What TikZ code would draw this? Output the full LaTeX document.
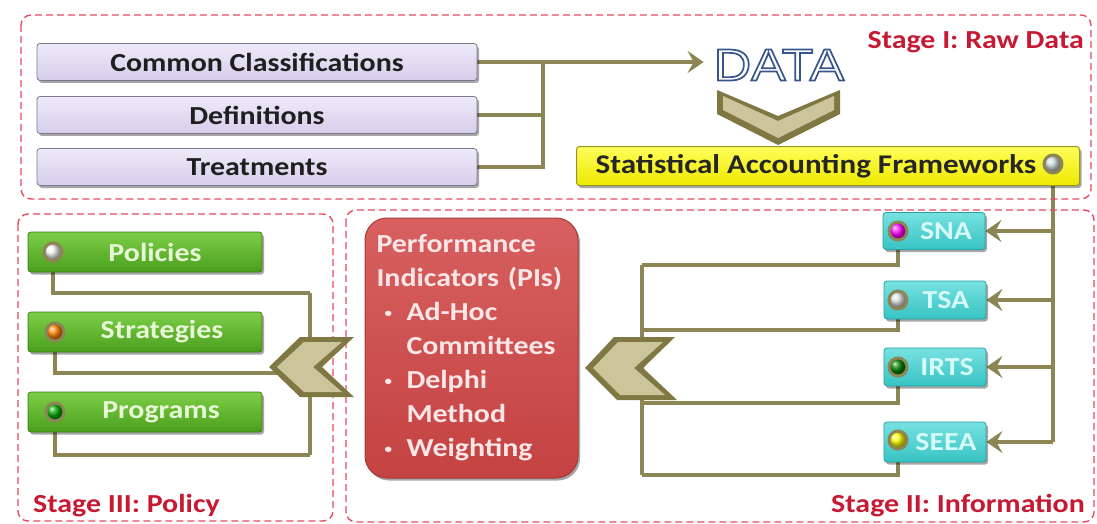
\documentclass[tikz,border=0pt]{standalone}
\usepackage{fontspec}
\setmainfont{Carlito}[FakeStretch=1.15]
\newfontfamily\datafont{Liberation Sans}[FakeStretch=1.15]
\usetikzlibrary{arrows.meta,shadows}
\pgfdeclarelayer{bg}
\pgfsetlayers{bg,main}
\definecolor{stagered}{RGB}{200,25,50}
\definecolor{dashred}{RGB}{228,75,100}
\definecolor{olivec}{RGB}{140,134,84}
\definecolor{chevfill}{RGB}{204,196,154}
\definecolor{chevdark}{RGB}{128,120,66}
\definecolor{lav}{RGB}{214,206,234}
\definecolor{lavtop}{RGB}{238,234,250}
\definecolor{lavborder}{RGB}{125,120,145}
\definecolor{yeltop}{RGB}{255,255,90}
\definecolor{yelbot}{RGB}{238,232,0}
\definecolor{yelborder}{RGB}{150,150,40}
\definecolor{tealtop}{RGB}{120,225,225}
\definecolor{tealbot}{RGB}{55,195,195}
\definecolor{tealborder}{RGB}{40,160,160}
\definecolor{tealtext}{RGB}{215,250,250}
\definecolor{grntop}{RGB}{125,205,70}
\definecolor{grnbot}{RGB}{75,160,30}
\definecolor{grnborder}{RGB}{55,125,25}
\definecolor{grntext}{RGB}{230,246,215}
\definecolor{redtop}{RGB}{216,96,96}
\definecolor{redbot}{RGB}{196,66,66}
\definecolor{redborder}{RGB}{170,58,58}
\definecolor{redtext}{RGB}{250,230,230}
\definecolor{datablue}{RGB}{55,85,140}
\newcommand\lblfont{\bfseries\fontsize{26}{30}\selectfont}
\newcommand\smallbul{\hspace*{8pt}\makebox[22pt][l]{\raisebox{3pt}{\scalebox{0.5}{•}}}}
\newcommand\outlinetext[1]{\special{pdf:literal direct 1 Tr 1.7 w}#1\special{pdf:literal direct 0 Tr}}
\begin{document}
\begin{tikzpicture}[x=1pt,y=-1pt,
  stagebox/.style={draw=dashred, dash pattern=on 7pt off 4pt, line width=1.4pt, rounded corners=10pt},
  stagelabel/.style={text=stagered, font=\lblfont, inner sep=0pt},
  shad/.style={drop shadow={shadow xshift=2pt, shadow yshift=-2.5pt, opacity=0.35, fill=black}},
  bar/.style={rectangle, rounded corners=3pt, draw=lavborder, line width=0.8pt, top color=lavtop, bottom color=lav, minimum width=440pt, minimum height=37pt, font=\lblfont, text={black!88}, shad, inner sep=0pt},
  yelbox/.style={rectangle, rounded corners=3pt, draw=yelborder, line width=1pt, top color=yeltop, bottom color=yelbot, minimum width=503pt, minimum height=39pt, font=\bfseries\fontsize{27}{30}\selectfont, text={black!85}, shad, inner sep=0pt},
  tealbox/.style={rectangle, rounded corners=3pt, draw=tealborder, line width=0.8pt, top color=tealtop, bottom color=tealbot, minimum width=102pt, minimum height=37pt, font=\lblfont, text=tealtext, shad, inner sep=0pt},
  grnbox/.style={rectangle, rounded corners=3pt, draw=grnborder, line width=0.8pt, top color=grntop, bottom color=grnbot, minimum width=234pt, minimum height=40pt, font=\lblfont, text=grntext, shad, inner sep=0pt},
  pibox/.style={rectangle, rounded corners=22pt, draw=redborder, line width=1pt, top color=redtop, bottom color=redbot, minimum width=213pt, minimum height=260pt, text width=190pt, align=left, inner xsep=11.5pt, font=\bfseries\fontsize{26}{34}\selectfont, text=redtext, shad},
  ballnode/.style={circle, draw=olivec, line width=3pt, minimum size=18pt, inner sep=0pt, shade, shading=ball, ball color=#1},
  link/.style={draw=olivec, line width=4pt},
  arrowlink/.style={link, -{Stealth[length=16pt, width=22pt, inset=6pt]}},
  chevout/.style={fill=chevdark},
  chevin/.style={fill=chevfill}
]
\useasboundingbox (0,0) rectangle (1097,524);

% stage frames
\draw[stagebox] (21,15) rectangle (1091,199);
\draw[stagebox] (18,214) rectangle (333,521);
\draw[stagebox] (346,210) rectangle (1094,522);

% stage labels
\node[stagelabel, anchor=base east] (st1) at (1084,49) {Stage I: Raw Data};
\node[stagelabel, anchor=base east] (st2) at (1085,512) {Stage II: Information};
\node[stagelabel, anchor=base west] (st3) at (33,512) {Stage III: Policy};

% Stage I
\node[bar] (cc)  at (257,62)  {Common Classifications};
\node[bar] (def) at (257,115) {Definitions};
\node[bar] (trt) at (257,167) {Treatments};
\node[inner sep=0pt, text=datablue, font=\datafont\fontsize{45}{45}\selectfont] (data) at (779,65) {\outlinetext{DATA}};
\coordinate (j1) at (543,62);
\begin{pgfonlayer}{bg}
\draw[link] (def.east) -- (def.east -| j1);
\draw[link] (trt.east) -- (trt.east -| j1) -- (j1);
\draw[arrowlink] (cc.east) -- ([xshift=-10pt]data.west |- cc.east);
\end{pgfonlayer}

% down chevron
\fill[chevout] (717,90) -- (778,116) -- (840,90) -- (840,114) -- (778,145) -- (717,114) -- cycle;
\fill[chevin] (723,96) -- (778,121) -- (834,96) -- (834,110) -- (778,138) -- (723,110) -- cycle;

\node[yelbox] (saf) at (828,166) {Statistical Accounting Frameworks\kern24pt};
\node[ballnode={cyan!15!gray!35}] (sball) at (1053,164) {};

% Stage II
\node[tealbox] (sna)  at (934,231) {\hspace{24pt}SNA};
\node[tealbox, minimum height=38pt] (tsa)  at (935,300) {\hspace{22pt}TSA};
\node[tealbox, minimum height=38pt] (irts) at (935,367) {\hspace{24pt}IRTS};
\node[tealbox, minimum height=40pt] (seea) at (935,442) {\hspace{22pt}SEEA};
\node[ballnode=magenta] (snab) at (898,231) {};
\node[ballnode={gray!25}] (tsab) at (898,300) {};
\node[ballnode={green!50!black}] (irtsb) at (898,367) {};
\node[ballnode=yellow] (seeab) at (898,440) {};

\coordinate (b1) at (642,265);
\coordinate (b2) at (642,330);
\coordinate (b3) at (642,403);
\coordinate (b4) at (642,475);
\begin{pgfonlayer}{bg}
\draw[link] (sball) -- (sball |- seea.east);
\draw[arrowlink] (sball |- sna.east) -- (sna.east);
\draw[arrowlink] (sball |- tsa.east) -- (tsa.east);
\draw[arrowlink] (sball |- irts.east) -- (irts.east);
\draw[arrowlink] (sball |- seea.east) -- (seea.east);
\draw[link] (snab) |- (b1);
\draw[link] (tsab) |- (b2);
\draw[link] (irtsb) |- (b3);
\draw[link] (seeab) |- (b4);
\draw[link] (b1) -- (b4);
\end{pgfonlayer}
\fill[chevout] (585,368) -- (614,337) -- (675,337) -- (643,368) -- (677,400) -- (617,400) -- cycle;
\fill[chevin] (593,368) -- (618,342) -- (663,342) -- (634,368) -- (665,395) -- (620,395) -- cycle;

\node[pibox] (pi) at (471.5,348) {Performance\\Indicators (PIs)\\\smallbul Ad-Hoc\\\hspace*{30pt}Committees\\\smallbul Delphi\\\hspace*{30pt}Method\\\smallbul Weighting};

% Stage III
\node[grnbox] (pol) at (145,252) {\hspace{20pt}Policies};
\node[grnbox] (str) at (145,332) {\hspace{34pt}Strategies};
\node[grnbox] (prg) at (145,412) {\hspace{32pt}Programs};
\node[ballnode={white!92!gray}] (polb) at (53,252) {};
\node[ballnode=orange] (strb) at (55,332) {};
\node[ballnode={green!65!black}] (prgb) at (55,412) {};
\coordinate (c1) at (310,293);
\coordinate (c2) at (295,373);
\coordinate (c3) at (310,455);
\begin{pgfonlayer}{bg}
\draw[link] (polb) |- (c1);
\draw[link] (strb) |- (c2);
\draw[link] (prgb) |- (c3);
\draw[link] (c1) -- (c3);
\end{pgfonlayer}
\fill[chevout] (269,367) -- (300,337) -- (354,337) -- (322,367) -- (354,397) -- (300,397) -- cycle;
\fill[chevin] (277,367) -- (304,342) -- (342,342) -- (313,367) -- (342,392) -- (304,392) -- cycle;
\end{tikzpicture}
\end{document}
